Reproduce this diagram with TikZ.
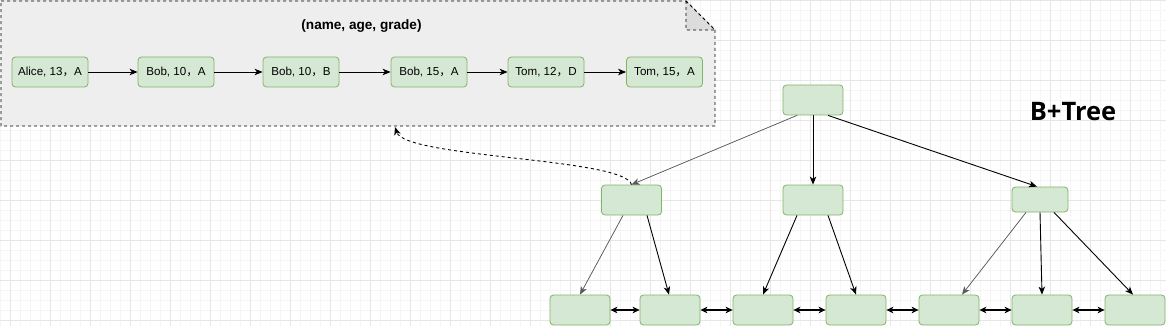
\documentclass[tikz,border=0pt]{standalone}
\usepackage{fontspec}
\setmainfont{Liberation Sans}
\newfontfamily\cjk{Noto Sans CJK SC}
\newfontfamily\titlefont{Open Sans}
\usetikzlibrary{arrows.meta,calc}
\definecolor{gfill}{HTML}{D5E8D4}
\definecolor{gline}{HTML}{82B366}
\definecolor{notefill}{HTML}{EEEEEE}
\definecolor{foldfill}{HTML}{DCDCDC}
\definecolor{gridmin}{HTML}{F5F5F5}
\definecolor{gridmaj}{HTML}{E6E6E6}
\newcommand{\fc}{{\cjk，}}
\tikzset{
  x=1pt,y=-1pt,
  rec/.style={draw=gline,fill=gfill,rounded corners=3.5pt,line width=0.8pt,inner sep=0pt,font=\fontsize{11.6}{13}\selectfont},
  rowbox/.style={rec,minimum width=76pt,minimum height=30pt},
  treebox/.style={rec,minimum width=60pt,minimum height=30pt},
  tip/.style={-{Stealth[length=8pt,width=6.5pt,inset=2.2pt]}},
  dtip/.style={{Stealth[length=7pt,width=6.5pt,inset=2pt]}-{Stealth[length=7pt,width=6.5pt,inset=2pt]}},
  blk/.style={tip,draw=black,line width=0.9pt},
  gry/.style={tip,draw=black!65,fill=black!65,line width=0.7pt},
  dsh/.style={dash pattern=on 3pt off 3pt}
}
\begin{document}
\begin{tikzpicture}
\useasboundingbox (0,0) rectangle (1166,326);
% grid
\foreach \i in {0,...,116} {\draw[gridmin,line width=0.6pt] (0.7+10*\i,0) -- (0.7+10*\i,326);}
\foreach \i in {0,...,32} {\draw[gridmin,line width=0.6pt] (0,0.7+10*\i) -- (1166,0.7+10*\i);}
\foreach \i in {0,...,29} {\draw[gridmaj,line width=0.6pt] (10.7+40*\i,0) -- (10.7+40*\i,326);}
\foreach \i in {0,...,8} {\draw[gridmaj,line width=0.6pt] (0,0.7+40*\i) -- (1166,0.7+40*\i);}
% note
\draw[dsh,fill=notefill,line width=0.8pt] (1,1) -- (686,1) -- (715,30) -- (715,126) -- (1,126) -- cycle;
\draw[dsh,fill=foldfill,line width=0.8pt] (686,1) -- (686,30) -- (715,30) -- cycle;
\node[font=\bfseries\fontsize{13.6}{15}\selectfont] (title) at (361.5,26) {(name, age, grade)};
\coordinate (notept) at (395,127);
% row
\node[rowbox] (r1) at (50,72) {Alice, 13\fc A};
\node[rowbox] (r2) at (176,72) {Bob, 10\fc A};
\node[rowbox] (r3) at (301,72) {Bob, 10\fc B};
\node[rowbox] (r4) at (429,72) {Bob, 15\fc A};
\node[rowbox] (r5) at (546,72) {Tom, 12\fc D};
\node[rowbox] (r6) at (664.5,72) {Tom, 15\fc A};
\foreach \a/\b in {r1/r2,r2/r3,r3/r4,r4/r5,r5/r6} {\draw[blk] (\a) -- (\b);}
% tree
\node[treebox] (root) at (813,100) {};
\node[treebox] (la) at (631.5,200) {};
\node[treebox] (lb) at (813,200) {};
\node[rec,minimum width=56pt,minimum height=25pt] (lc) at (1040,199.5) {};
\node[treebox] (f1) at (580,310) {};
\node[treebox] (f2) at (670,310) {};
\node[treebox] (f3) at (763,310) {};
\node[treebox] (f4) at (856,310) {};
\node[treebox] (f5) at (949,310) {};
\node[treebox] (f6) at (1042,310) {};
\node[treebox] (f7) at (1135,310) {};
\node[font=\titlefont\bfseries\fontsize{25.5}{28}\selectfont] (bt) at (1073,112) {B+Tree};
\draw[gry] ($(root.south)+(-16,0)$) -- (la.north);
\draw[blk] (root.south) -- (lb.north);
\draw[blk] ($(root.south)+(15,0)$) -- ($(lc.north)+(-3,0)$);
\draw[gry] ($(la.south)+(-8.5,0)$) -- (f1.north);
\draw[blk] ($(la.south)+(15.5,0)$) -- ($(f2.north)+(-1,0)$);
\draw[blk] ($(lb.south)+(-16,0)$) -- (f3.north);
\draw[blk] ($(lb.south)+(15,0)$) -- (f4.north);
\draw[gry] ($(lc.south)+(-14,0)$) -- ($(f5.north)+(13,0)$);
\draw[blk] (lc.south) -- (f6.north);
\draw[blk] ($(lc.south)+(14,0)$) -- ($(f7.north)+(-2,0)$);
\foreach \a/\b in {f1/f2,f2/f3,f3/f4,f4/f5,f5/f6,f6/f7} {\draw[dtip,line width=1.2pt] (\a) -- (\b);}
% dashed link
\draw[tip,dsh,line width=0.9pt] (la.north) .. controls (625,158) and (405,158) .. (notept);
\end{tikzpicture}
\end{document}
